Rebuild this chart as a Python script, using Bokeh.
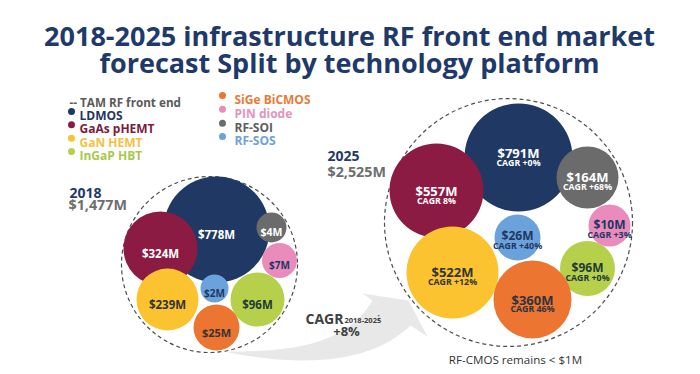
import numpy as np
from bokeh.plotting import figure
from bokeh.models import ColumnDataSource, Range1d
from bokeh.core.properties import value
from bokeh.embed import file_html
from bokeh.resources import INLINE

# ---------------- data ----------------
technologies = ["LDMOS", "GaAs pHEMT", "GaN HEMT", "InGaP HBT",
                "SiGe BiCMOS", "PIN diode", "RF-SOI", "RF-SOS"]
values_2018 = [778, 324, 239, 96, 25, 7, 4, 2]
values_2025 = [791, 557, 522, 96, 360, 10, 164, 26]
cagr_2025 = ["+0%", "8%", "+12%", "+0%", "46%", "+3%", "+68%", "+40%"]
total_2018 = 1477
total_2025 = 2525
market_cagr = "+8%"
cagr_period = "2018-2025"
title_lines = ["2018-2025 infrastructure RF front end market",
               "forecast Split by technology platform"]
note = "RF-CMOS remains < $1M"

# ---------------- styles / layout ----------------
FONT = value("Open Sans")
NAVY = "#1f3a6a"
fill_colors = ["#1f3864", "#8c1b44", "#fbc330", "#b6d04b",
               "#ec7532", "#e98cbb", "#6b6b6b", "#6ca2dc"]
legend_text_colors = ["#1e3764", "#7b1c40", "#f6c143", "#a8c94c",
                      "#ea7a3a", "#e394bb", "#5d5d5d", "#6fa1d6"]
label_colors_2018 = ["white", "white", "#333333", "#1f3a36",
                     "#3a3333", "#1e3764", "white", "#1e3764"]
label_colors_2025 = ["white", "white", "#333333", "#1f3a36",
                     "#2f3340", "#1e3764", "white", "#1e3764"]

x18 = [216, 160, 167, 257, 216, 279, 271, 214]
y18 = [229, 248, 299, 299, 327, 260, 227, 288]
r18 = [53, 37, 31, 27, 23, 17.5, 15, 14]
fs18 = ["11.5px", "11.5px", "11.5px", "11.5px", "11px", "10px", "10.5px", "10px"]

x25 = [518, 436, 452, 587, 532, 609, 587, 517]
y25 = [157, 190, 272, 268, 299, 225, 177, 237]
r25 = [54, 47, 46, 27.5, 39, 21, 31, 23]
fs25 = ["13px", "13px", "13px", "12px", "13px", "12px", "13px", "12px"]
val_dy25 = [-4.5, 0, -1, -1, 0, -1.5, -0.5, -2]
cagr_dy25 = [5.5, 10, 9, 9, 9.5, 9, 9, 8.5]

outer_x = [209, 508]
outer_y = [264, 222]
outer_r = [88, 124]

W, H = 696, 370
p = figure(width=W, height=H, x_range=Range1d(0, W), y_range=Range1d(H, 0),
           output_backend="svg", toolbar_location=None, min_border=0,
           x_axis_location=None, y_axis_location=None)
p.grid.visible = False
p.outline_line_color = None
p.background_fill_color = "white"
p.border_fill_color = "white"

BL = "alphabetic"

# ---------------- title ----------------
p.text(x=[349, 349], y=[35, 62], text=title_lines, text_font=FONT, text_font_style="bold",
       text_font_size="27px", text_color=NAVY, text_align="center", text_baseline=BL)

# ---------------- legend ----------------
p.text(x=[69], y=[101], text=["-- TAM RF front end"], text_font=FONT, text_font_style="bold",
       text_font_size="11.7px", text_color="#5a5a5a", text_baseline=BL)
leg_x_dot = [71, 71, 71, 71, 222, 222, 222, 222]
leg_x_txt = [79, 79, 79, 79, 234, 234, 234, 234]
leg_base = [115, 128.3, 141.7, 155, 99, 112.7, 126.7, 140]
p.scatter(x=leg_x_dot, y=[b - 4 for b in leg_base], size=7, color=fill_colors, line_color=None)
p.text(x=leg_x_txt, y=leg_base, text=technologies, text_font=FONT, text_font_style="bold",
       text_font_size="12px", text_color=legend_text_colors, text_baseline=BL)

# ---------------- curved arrow ----------------
def cubic(p0, p1, p2, p3, n=40):
    t = np.linspace(0, 1, n)[:, None]
    p0, p1, p2, p3 = map(np.array, (p0, p1, p2, p3))
    return (1 - t) ** 3 * p0 + 3 * (1 - t) ** 2 * t * p1 + 3 * (1 - t) * t ** 2 * p2 + t ** 3 * p3

upper = cubic((228, 351), (290, 351), (345, 345), (372, 300))
lower = cubic((228, 352), (300, 366), (370, 364), (410, 325))[::-1]
head_x = [362, 408, 427]
head_y = [293, 300, 336]
ax = list(upper[:, 0]) + head_x + list(lower[:, 0])
ay = list(upper[:, 1]) + head_y + list(lower[:, 1])
p.patch(ax, ay, fill_color="#e8e8e8", line_color=None)

# ---------------- outer dashed circles ----------------
p.circle(x=outer_x, y=outer_y, radius=outer_r, fill_color="white",
         line_color="#4d4d4d", line_dash="4 3", line_width=1.2)

# ---------------- bubbles 2018 ----------------
src18 = ColumnDataSource(dict(x=x18, y=y18, r=r18, c=fill_colors,
                              lab=[f"${v}M" for v in values_2018],
                              ly=[y + 4.5 for y in y18],
                              lc=label_colors_2018, fs=fs18))
p.circle(x="x", y="y", radius="r", fill_color="c", line_color=None, source=src18)
p.text(x="x", y="ly", text="lab", text_color="lc", text_font_size="fs", text_font=FONT,
       text_font_style="bold", text_align="center", text_baseline=BL, source=src18)

# ---------------- bubbles 2025 ----------------
src25 = ColumnDataSource(dict(x=x25, y=y25, r=r25, c=fill_colors,
                              lab=[f"${v}M" for v in values_2025],
                              cg=[f"CAGR {c}" for c in cagr_2025],
                              ly=[y + d for y, d in zip(y25, val_dy25)],
                              cy=[y + d for y, d in zip(y25, cagr_dy25)],
                              lc=label_colors_2025, fs=fs25))
p.circle(x="x", y="y", radius="r", fill_color="c", line_color=None, source=src25)
p.text(x="x", y="ly", text="lab", text_color="lc", text_font_size="fs", text_font=FONT,
       text_font_style="bold", text_align="center", text_baseline=BL, source=src25)
p.text(x="x", y="cy", text="cg", text_color="lc", text_font_size="8.8px", text_font=FONT,
       text_font_style="bold", text_align="center", text_baseline=BL, source=src25)

# ---------------- year labels ----------------
p.text(x=[69, 327], y=[192.7, 155], text=["2018", "2025"], text_font=FONT, text_font_style="bold",
       text_font_size="14px", text_color=NAVY, text_baseline=BL)
p.text(x=[68, 327], y=[204, 170.7], text=[f"${total_2018:,}M", f"${total_2025:,}M"],
       text_font=FONT, text_font_style="bold", text_font_size="14.3px", text_color="#6e6e6e",
       text_baseline=BL)

# ---------------- CAGR label ----------------
p.text(x=[305], y=[318.3], text=["CAGR"], text_font=FONT, text_font_style="bold",
       text_font_size="14px", text_color="#404040", text_baseline=BL)
p.text(x=[344], y=[319.5], text=[cagr_period], text_font=FONT, text_font_style="bold",
       text_font_size="7.5px", text_color="#404040", text_baseline=BL)
p.text(x=[377], y=[316], text=[":"], text_font=FONT, text_font_style="bold",
       text_font_size="8px", text_color="#404040", text_baseline=BL)
p.text(x=[346], y=[330.7], text=[market_cagr], text_font=FONT, text_font_style="bold",
       text_font_size="13px", text_color="#404040", text_align="center", text_baseline=BL)

# ---------------- note ----------------
p.text(x=[515], y=[359.3], text=[note], text_font=FONT, text_font_size="11.6px",
       text_color="#333333", text_align="center", text_baseline=BL)

open("out.html", "w").write(file_html(p, INLINE))
